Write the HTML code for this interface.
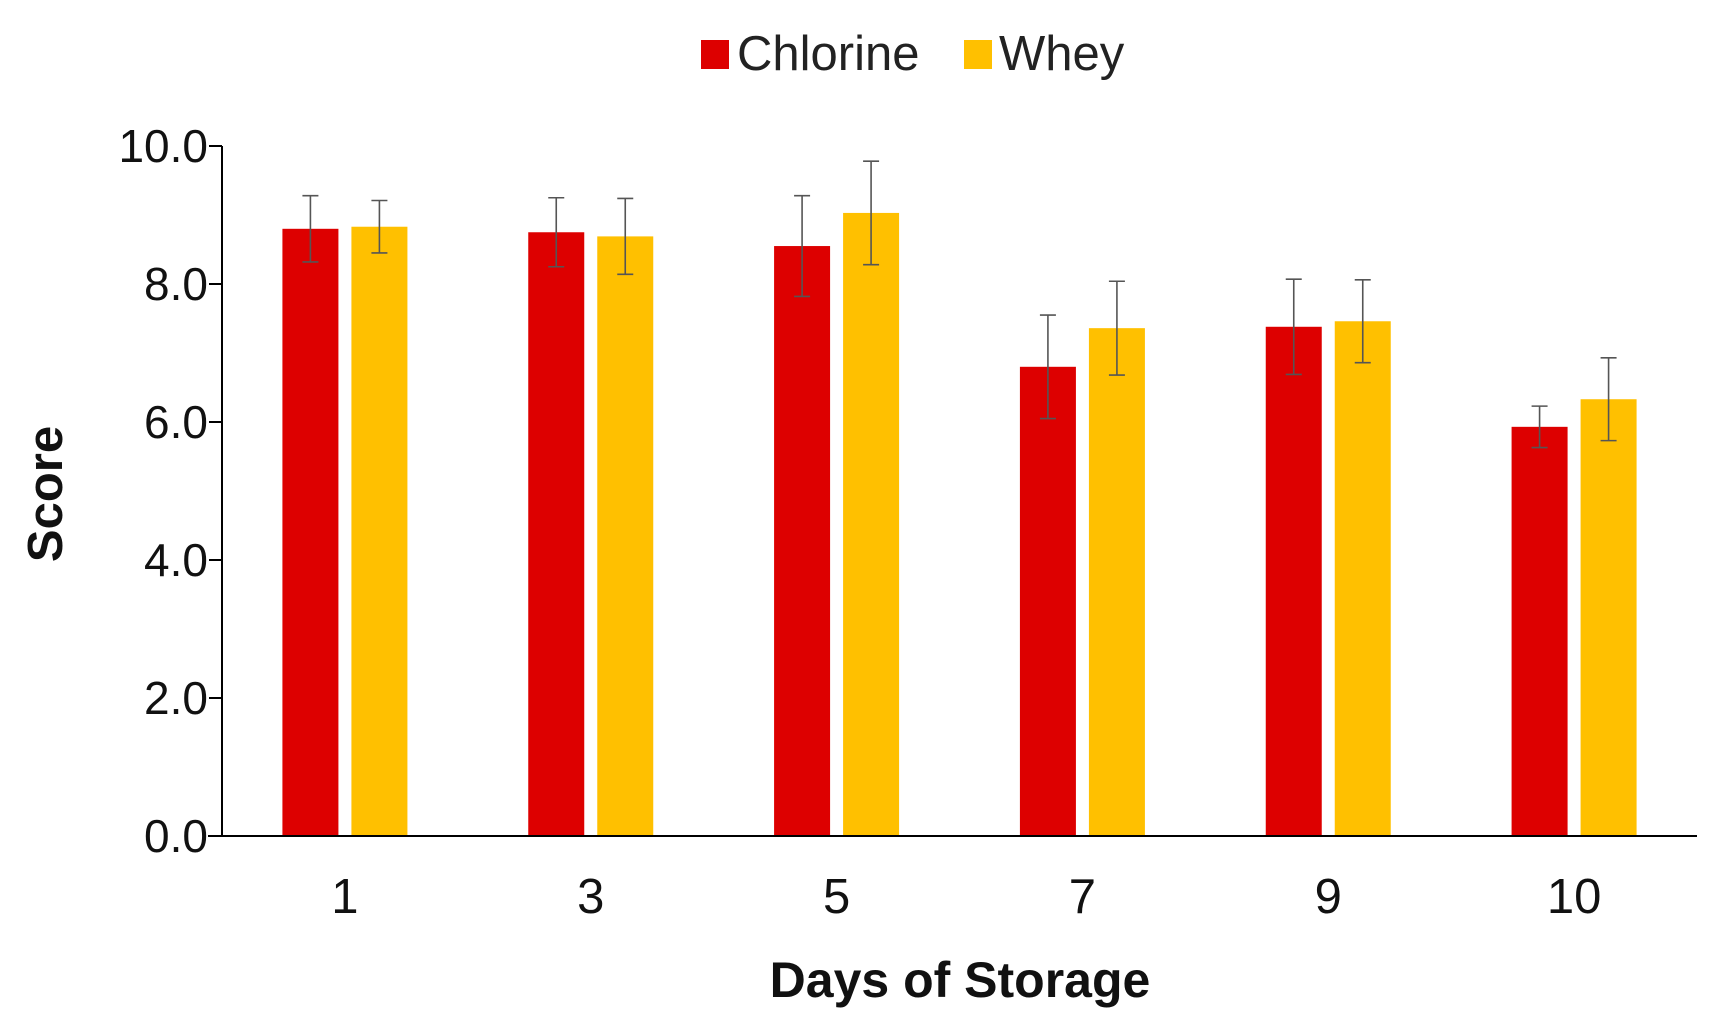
<!DOCTYPE html>
<html><head><meta charset="utf-8"><style>
html,body{margin:0;padding:0;background:#fff;}
svg{display:block;font-family:"Liberation Sans",Arial,sans-serif;}
</style></head><body>
<svg id="chart" width="1729" height="1022" viewBox="0 0 1729 1022" xmlns="http://www.w3.org/2000/svg">
<g>
<rect x="701" y="40" width="28" height="29" fill="#DD0000"/>
<text x="737" y="70" font-size="49" fill="#222">Chlorine</text>
<rect x="964" y="40" width="28" height="29" fill="#FFC000"/>
<text x="999" y="70" font-size="49" fill="#222">Whey</text>
</g>
<text transform="translate(62,494) rotate(-90)" text-anchor="middle" font-size="49" font-weight="bold" fill="#111">Score</text>
<text x="960" y="997" text-anchor="middle" font-size="50" font-weight="bold" fill="#111">Days of Storage</text>
<g id="plot"></g>
</svg>
<script>
const categories = ["1","3","5","7","9","10"];
const chlorine = [8.80, 8.75, 8.55, 6.80, 7.38, 5.93];
const chlorineErr = [0.48, 0.50, 0.73, 0.75, 0.69, 0.30];
const whey = [8.83, 8.69, 9.03, 7.36, 7.46, 6.33];
const wheyErr = [0.38, 0.55, 0.75, 0.68, 0.60, 0.60];
const yTicks = [0, 2, 4, 6, 8, 10];
const yTickLabels = ["0.0","2.0","4.0","6.0","8.0","10.0"];

const NS = "http://www.w3.org/2000/svg";
const plot = document.getElementById("plot");
const x0 = 222, x1 = 1697, yTop = 146, yBot = 836, yMax = 10;
const band = (x1 - x0) / categories.length;
function yScale(v){ return yBot - (v / yMax) * (yBot - yTop); }
function xCenter(i){ return x0 + band * (i + 0.5); }
function mk(tag, attrs){ const e = document.createElementNS(NS, tag); for (const k in attrs) e.setAttribute(k, attrs[k]); plot.appendChild(e); return e; }

let ax = mk("line", {x1:x0, y1:yTop, x2:x0, y2:yBot, stroke:"#000", "stroke-width":2});


yTicks.forEach((t, i) => {
  const y = yScale(t);
  const tk = mk("line", {x1:x0-13, y1:y, x2:x0, y2:y, stroke:"#000", "stroke-width":2});
  
  
  const lb = mk("text", {x:x0-14, y:y+16, "text-anchor":"end", "font-size":46, fill:"#111"});
  lb.textContent = yTickLabels[i];
  
  
});

const bw = 56, gap = 13;
function drawSeries(vals, errs, color, offset, name){
  vals.forEach((v, i) => {
    const cx = xCenter(i) + offset;
    const b = mk("rect", {x:cx - bw/2, y:yScale(v), width:bw, height:yBot - yScale(v), fill:color});
    
    
    const hi = yScale(v + errs[i]), lo = yScale(v - errs[i]);
    const g = document.createElementNS(NS, "g");
    
    
    plot.appendChild(g);
    [[cx,hi,cx,lo],[cx-8,hi,cx+8,hi],[cx-8,lo,cx+8,lo]].forEach(c => {
      const l = document.createElementNS(NS, "line");
      l.setAttribute("x1", c[0]); l.setAttribute("y1", c[1]); l.setAttribute("x2", c[2]); l.setAttribute("y2", c[3]);
      l.setAttribute("stroke", "#555"); l.setAttribute("stroke-width", "1.6");
      g.appendChild(l);
    });
  });
}
drawSeries(chlorine, chlorineErr, "#DD0000", -(bw/2 + gap/2), "chlorine");
drawSeries(whey, wheyErr, "#FFC000", (bw/2 + gap/2), "whey");

let xa = mk("line", {x1:208, y1:yBot, x2:x1, y2:yBot, stroke:"#000", "stroke-width":2});


categories.forEach((c, i) => {
  const t = mk("text", {x:xCenter(i), y:913, "text-anchor":"middle", "font-size":49, fill:"#111"});
  t.textContent = c;
  
  
});
</script>
</body></html>
